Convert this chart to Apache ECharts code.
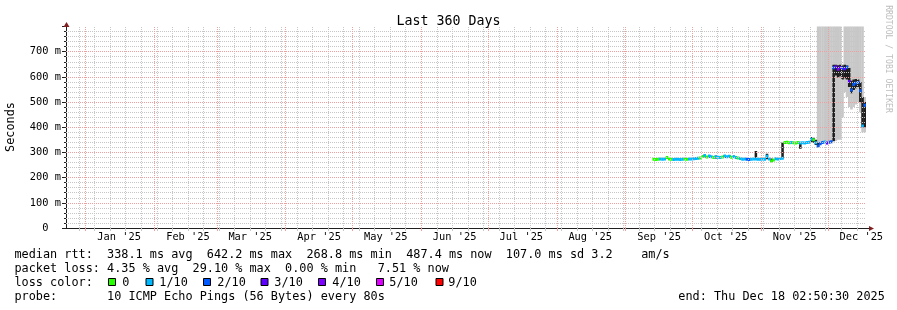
<!DOCTYPE html>
<html><head><meta charset="utf-8">
<script src="https://cdn.jsdelivr.net/npm/echarts@6/dist/echarts.min.js"></script>
<style>html,body{margin:0;padding:0;background:#fff}#c{width:897px;height:310px}</style>
</head><body><div id="c"></div><script>
// ---- time window ----
const DAY = 86400000;
const END = Date.UTC(2025, 11, 18, 2, 50, 30);
const START = END - 360 * DAY;

// ---- axis labels ----
const monthStarts = ['2025-01-01','2025-02-01','2025-03-01','2025-04-01','2025-05-01','2025-06-01','2025-07-01','2025-08-01','2025-09-01','2025-10-01','2025-11-01','2025-12-01'];
const monthLabelDates = ['2025-01-16','2025-02-16','2025-03-16','2025-04-16','2025-05-16','2025-06-16','2025-07-16','2025-08-16','2025-09-16','2025-10-16','2025-11-16','2025-12-16'];
const monthLabels = ["Jan '25","Feb '25","Mar '25","Apr '25","May '25","Jun '25","Jul '25","Aug '25","Sep '25","Oct '25","Nov '25","Dec '25"];
const yTicks = [0,100,200,300,400,500,600,700,800];

// ---- data (daily bins, Sep 13 .. Dec 18 2025) ----
const dates = [
'2025-09-13','2025-09-14','2025-09-15','2025-09-16','2025-09-17','2025-09-18','2025-09-19','2025-09-20','2025-09-21','2025-09-22',
'2025-09-23','2025-09-24','2025-09-25','2025-09-26','2025-09-27','2025-09-28','2025-09-29','2025-09-30','2025-10-01','2025-10-02',
'2025-10-03','2025-10-04','2025-10-05','2025-10-06','2025-10-07','2025-10-08','2025-10-09','2025-10-10','2025-10-11','2025-10-12',
'2025-10-13','2025-10-14','2025-10-15','2025-10-16','2025-10-17','2025-10-18','2025-10-19','2025-10-20','2025-10-21','2025-10-22',
'2025-10-23','2025-10-24','2025-10-25','2025-10-26','2025-10-27','2025-10-28','2025-10-29','2025-10-30','2025-10-31','2025-11-01',
'2025-11-02','2025-11-03','2025-11-04','2025-11-05','2025-11-06','2025-11-07','2025-11-08','2025-11-09','2025-11-10','2025-11-11',
'2025-11-12','2025-11-13','2025-11-14','2025-11-15','2025-11-16','2025-11-17','2025-11-18','2025-11-19','2025-11-20','2025-11-21',
'2025-11-22','2025-11-23','2025-11-24','2025-11-25','2025-11-26','2025-11-27','2025-11-28','2025-11-29','2025-11-30','2025-12-01',
'2025-12-02','2025-12-03','2025-12-04','2025-12-05','2025-12-06','2025-12-07','2025-12-08','2025-12-09','2025-12-10','2025-12-11',
'2025-12-12','2025-12-13','2025-12-14','2025-12-15','2025-12-16','2025-12-17','2025-12-18'];

const median = [
273,272,273,274,273,274,280,274,273,272,
273,273,272,273,274,273,274,274,275,276,
277,278,284,288,282,286,283,280,283,281,
280,282,286,283,285,281,284,280,278,276,
273,274,273,272,273,274,274,273,273,274,
273,285,274,266,270,275,274,276,277,339,
340,338,339,338,337,339,337,338,337,339,
340,352,350,338,326,334,339,341,337,340,
342,636,640,630,637,634,632,638,582,548,
570,576,578,545,405,487,487];

// loss level per bin: 0 = 0/10, 1 = 1/10, 2 = 2/10, 3 = 3/10, 4 = 4/10, 5 = 5/10, 9 = 9/10
const loss = [
0,0,0,1,1,1,0,0,0,1,
1,1,1,1,0,0,1,1,1,1,
1,0,0,1,0,1,1,0,1,1,
1,0,1,1,1,0,1,1,0,1,
1,1,2,2,1,1,1,1,1,1,
1,1,1,0,0,1,1,1,1,0,
0,0,1,0,0,0,1,1,1,1,
1,1,0,1,2,2,2,1,3,2,
2,2,3,4,3,2,3,2,3,2,
2,2,2,2,1,2,2];

// dark smoke (inner ping spread), null = none
const darkLo = [
null,null,null,null,null,null,null,null,null,null,
null,null,null,null,null,null,null,null,null,null,
null,null,null,280,null,279,null,null,276,null,
null,null,278,null,279,null,null,null,null,null,
null,null,null,null,null,null,274,null,null,null,
null,273,null,263,null,null,null,null,277,null,
null,null,null,null,null,null,315,null,null,null,
null,340,338,330,322,null,null,null,null,null,
null,345,605,598,602,590,595,590,560,535,
548,555,560,500,400,400,470];
const darkHi = [
null,null,null,null,null,null,null,null,null,null,
null,null,null,null,null,null,null,null,null,null,
null,null,null,292,null,290,null,null,288,null,
null,null,290,null,290,null,null,null,null,null,
null,null,null,null,null,null,306,null,null,null,
null,295,null,276,null,null,null,null,339,null,
null,null,null,null,null,null,338,null,null,null,
null,361,358,350,338,null,null,null,null,null,
null,648,648,646,648,645,648,645,635,585,
590,592,590,580,520,500,500];

// light smoke (outer ping spread, beyond the top = off scale), null = none
const lightLo = [
null,null,null,null,null,null,null,null,null,null,
null,null,null,null,null,null,null,null,null,null,
null,null,null,null,null,null,null,null,null,null,
null,null,null,null,null,null,null,null,null,null,
null,null,null,null,null,null,null,null,null,null,
null,null,null,null,null,null,null,null,null,null,
null,null,null,null,null,null,null,null,null,null,
null,null,null,null,322,330,335,336,333,336,
338,340,345,350,350,440,540,520,480,470,
480,490,500,460,380,380,null];
const lightHi = [
null,null,null,null,null,null,null,null,null,null,
null,null,null,null,null,null,null,null,null,null,
null,null,null,null,null,null,null,null,null,null,
null,null,null,null,null,null,null,null,null,null,
null,null,null,null,null,null,null,null,null,null,
null,null,null,null,null,null,null,null,null,null,
null,null,null,null,null,null,null,null,null,null,
null,null,null,null,900,900,900,900,900,900,
900,900,900,900,900,650,900,900,900,900,
900,900,900,900,900,520,null];

const lossKeys = [0,1,2,3,4,5,9];
const lossNames = ['0','1/10','2/10','3/10','4/10','5/10','9/10'];
const lossColors = {0:'#26ff00',1:'#00b8ff',2:'#0059ff',3:'#5e00ff',4:'#7e00ff',5:'#dd00ff',9:'#ff0000'};

// ---- build ----
const toT = s => Date.parse(s + 'T00:00:00Z');
const times = dates.map(toT);
const labelTimes = monthLabelDates.map(toT);
const monthTimes = monthStarts.map(toT);
const sundays = [];
for (let t = Date.UTC(2024, 11, 29); t < END; t += 7 * DAY) sundays.push(t);
const minorY = [], majorY = [];
for (let v = 20; v < 800; v += 20) { if (v % 100) minorY.push(v); }
yTicks.forEach(v => { if (v > 0 && v < 800) majorY.push(v); });

function bandData(lo, hi) {
  const out = [];
  times.forEach((t, i) => { if (lo[i] != null && hi[i] != null) out.push([t, lo[i], hi[i]]); });
  return out;
}
function bandItem(color) {
  return function (params, api) {
    const t = api.value(0), lo = api.value(1), hi = api.value(2);
    const a = api.coord([t, hi]), b = api.coord([t + DAY, lo]);
    return { type: 'rect', shape: { x: a[0], y: a[1], width: b[0] - a[0] + 0.3, height: b[1] - a[1] }, style: { fill: color } };
  };
}
const medData = times.map((t, i) => [t, median[i], loss[i]]);

const GRID = '#c6c6c6';
const MGRID = '#eea0a0';
const MONO = '"DejaVu Sans Mono", monospace';

const chart = echarts.init(document.getElementById('c'), null, { renderer: 'canvas' });
chart.setOption({
  animation: false,
  backgroundColor: '#ffffff',
  title: { text: 'Last 360 Days', left: 'center', top: 10,
    textStyle: { fontFamily: MONO, fontSize: 13.3, fontWeight: 'normal', color: '#000' } },
  grid: { left: 66, top: 26.5, width: 800, height: 201.5 },
  xAxis: [{
    type: 'value', min: START, max: END,
    axisLine: { show: true, lineStyle: { color: '#1f1f1f', width: 1 } },
    axisTick: { show: true, length: 3, customValues: sundays, lineStyle: { color: GRID } },
    axisLabel: { show: true, customValues: labelTimes, margin: 4,
      fontFamily: MONO, fontSize: 10.35, color: '#000',
      formatter: v => { const k = labelTimes.indexOf(v); return k >= 0 ? monthLabels[k] : ''; } },
    splitLine: { show: false }
  }, {
    type: 'value', min: START, max: END, position: 'bottom',
    axisLine: { show: false },
    axisTick: { show: true, length: 3, customValues: monthTimes, lineStyle: { color: MGRID } },
    axisLabel: { show: false }, splitLine: { show: false }
  }],
  yAxis: {
    type: 'value', min: 0, max: 800, interval: 100,
    axisLine: { show: true, lineStyle: { color: '#1f1f1f', width: 1 } },
    axisTick: { show: true, length: 4, lineStyle: { color: '#1f1f1f' } },
    minorTick: { show: true, splitNumber: 5, length: 2, lineStyle: { color: '#1f1f1f' } },
    axisLabel: { margin: 5, fontFamily: MONO, fontSize: 10.35, color: '#000',
      formatter: v => v === 0 ? '0  ' : (v === 800 ? '' : v + ' m') },
    splitLine: { show: false }
  },
  series: [
    { type: 'custom', name: 'smoke-light', clip: true, z: 2, renderItem: bandItem('#c8c8c8'),
      data: bandData(lightLo, lightHi), encode: { x: 0, y: [1, 2] } },
    { type: 'custom', name: 'smoke-dark', clip: true, z: 3, renderItem: bandItem('#1e1e1e'),
      data: bandData(darkLo, darkHi), encode: { x: 0, y: [1, 2] } },
    { type: 'custom', name: 'median', clip: true, z: 4,
      renderItem: function (params, api) {
        const t = api.value(0), v = api.value(1), l = api.value(2);
        const a = api.coord([t, v]), b = api.coord([t + DAY, v]);
        return { type: 'rect', shape: { x: a[0], y: a[1] - 1.5, width: b[0] - a[0] + 0.3, height: 3 },
          style: { fill: lossColors[l] } };
      },
      data: medData, encode: { x: 0, y: 1 } },
    { type: 'line', name: 'grid-minor', data: [], z: 5,
      markLine: { silent: true, symbol: ['none', 'none'], animation: false, label: { show: false },
        lineStyle: { color: GRID, width: 1, type: [1, 1] },
        data: sundays.map(t => ({ xAxis: t })).concat(minorY.map(v => ({ yAxis: v }))) } },
    { type: 'line', name: 'grid-major', data: [], z: 6,
      markLine: { silent: true, symbol: ['none', 'none'], animation: false, label: { show: false },
        lineStyle: { color: MGRID, width: 1, type: [1, 1] },
        data: monthTimes.map(t => ({ xAxis: t })).concat(majorY.map(v => ({ yAxis: v }))) } }
  ]
});

// ---- decorations: arrows, texts, legend ----
const pTop = chart.convertToPixel({ xAxisIndex: 0, yAxisIndex: 0 }, [START, 800]);
const pRight = chart.convertToPixel({ xAxisIndex: 0, yAxisIndex: 0 }, [END, 0]);
const ax = Math.round(pTop[0]), ay = Math.round(pTop[1]);
const bx = Math.round(pRight[0]), by = Math.round(pRight[1]);
const ARROW = '#801f1f';
const g = [];
g.push({ type: 'polygon', shape: { points: [[ax - 2.5, ay], [ax + 3.5, ay], [ax + 0.5, ay - 5]] }, style: { fill: ARROW }, z: 10 });
g.push({ type: 'line', shape: { x1: bx, y1: by + 0.5, x2: bx + 3, y2: by + 0.5 }, style: { stroke: '#1f1f1f', lineWidth: 1 }, z: 10 });
g.push({ type: 'polygon', shape: { points: [[bx + 3, by - 2], [bx + 3, by + 3], [bx + 8, by + 0.5]] }, style: { fill: ARROW }, z: 10 });

function txt(text, x, y, size, opts) {
  const o = Object.assign({ align: 'left', color: '#000', rotation: 0 }, opts || {});
  return { type: 'text', x: x, y: y, rotation: o.rotation, z: 10,
    style: { text: text, x: 0, y: 0, font: size + 'px ' + MONO, fill: o.color,
      align: o.align, verticalAlign: 'middle', textAlign: o.align, textVerticalAlign: 'middle' } };
}
g.push(txt('Seconds', 11, 127, 11.83, { align: 'center', rotation: Math.PI / 2 }));
g.push(txt('RRDTOOL / TOBI OETIKER', 888, 59, 8.13, { align: 'center', rotation: -Math.PI / 2, color: '#bdbdbd' }));

const LX = 14.5, LS = 11.83;
g.push(txt('median rtt:  338.1 ms avg  642.2 ms max  268.8 ms min  487.4 ms now  107.0 ms sd 3.2    am/s', LX, 255, LS));
g.push(txt('packet loss: 4.35 % avg  29.10 % max  0.00 % min   7.51 % now', LX, 269, LS));
g.push(txt('loss color:', LX, 283, LS));
const boxX = [108, 145.5, 203, 260.5, 318, 376, 435.5];
const labX = [122.3, 159.3, 217.3, 274.3, 332.3, 389.3, 448.3];
lossKeys.forEach((k, i) => {
  g.push({ type: 'rect', z: 10, shape: { x: boxX[i] + 0.5, y: 278.5, width: 7, height: 7 },
    style: { fill: lossColors[k], stroke: '#000', lineWidth: 1 } });
  g.push(txt(lossNames[i], labX[i], 283, LS));
});
g.push(txt('probe:       10 ICMP Echo Pings (56 Bytes) every 80s', LX, 297, LS));
g.push(txt('end: Thu Dec 18 02:50:30 2025', 678.3, 297, LS));

chart.setOption({ graphic: { elements: g } });
</script></body></html>
